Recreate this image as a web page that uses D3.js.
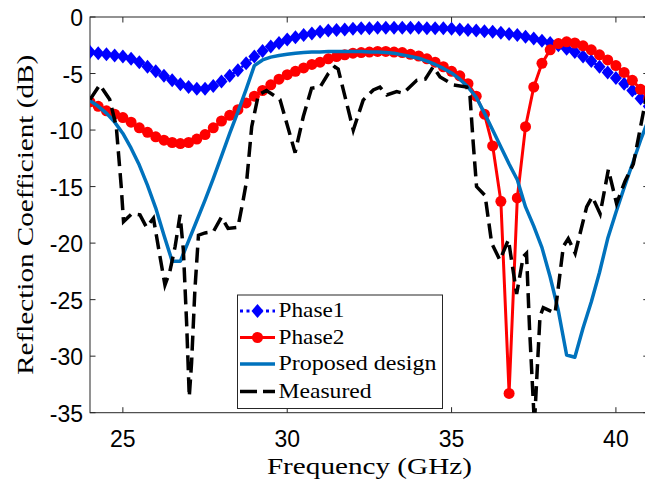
<!DOCTYPE html>
<html>
  <head>
    <meta charset="utf-8">
    <title>Reflection Coefficient</title>
    <script src="https://cdn.jsdelivr.net/npm/d3@7"></script>
    <style>
      body { margin: 0; background: #fff; }
      .tick-label { font-family: "Liberation Sans", Arial, sans-serif; font-size: 23px; fill: #000; }
      .axis-title, .legend-text { font-family: "Liberation Serif", "Times New Roman", serif; fill: #000; }
    </style>
  </head>
  <body>
    <svg id="chart"></svg>
    <script>
// frequency grid of the simulated curves (GHz)
var freq = [24, 24.25, 24.5, 24.75, 25, 25.25, 25.5, 25.75, 26, 26.25, 26.5, 26.75,
  27, 27.25, 27.5, 27.75, 28, 28.25, 28.5, 28.75, 29, 29.25, 29.5, 29.75,
  30, 30.25, 30.5, 30.75, 31, 31.25, 31.5, 31.75, 32, 32.25, 32.5, 32.75,
  33, 33.25, 33.5, 33.75, 34, 34.25, 34.5, 34.75, 35, 35.25, 35.5, 35.75,
  36, 36.25, 36.5, 36.75, 37, 37.25, 37.5, 37.75, 38, 38.25, 38.5, 38.75,
  39, 39.25, 39.5, 39.75, 40, 40.25, 40.5, 40.75, 41];

var phase1 = [-3.1, -3.2, -3.3, -3.4, -3.5, -3.7, -4.0, -4.4, -4.8, -5.2, -5.6, -5.95,
  -6.2, -6.35, -6.35, -6.1, -5.7, -5.2, -4.7, -4.1, -3.5, -3.0, -2.6, -2.3,
  -2.0, -1.8, -1.6, -1.45, -1.3, -1.2, -1.15, -1.1, -1.05, -1.0, -1.0, -0.95,
  -0.95, -0.95, -0.95, -0.95, -0.95, -1.0, -1.0, -1.0, -1.05, -1.1, -1.15, -1.2,
  -1.25, -1.3, -1.4, -1.5, -1.6, -1.75, -1.9, -2.1, -2.3, -2.5, -2.8, -3.1,
  -3.5, -3.9, -4.4, -4.9, -5.4, -5.9, -6.5, -7.2, -7.9];

var phase2 = [-7.5, -7.9, -8.3, -8.6, -8.9, -9.3, -9.8, -10.2, -10.6, -10.9, -11.1, -11.2,
  -11.1, -10.8, -10.4, -9.8, -9.2, -8.7, -8.2, -7.6, -7.0, -6.5, -6.0, -5.5,
  -5.1, -4.8, -4.5, -4.2, -4.0, -3.7, -3.5, -3.35, -3.2, -3.15, -3.1, -3.05,
  -3.05, -3.1, -3.15, -3.3, -3.45, -3.7, -4.0, -4.4, -4.8, -5.2, -5.9, -7.0,
  -8.6, -11.4, -16.3, -33.3, -16.0, -9.7, -6.2, -4.1, -2.9, -2.35, -2.2, -2.3,
  -2.55, -2.9, -3.35, -3.8, -4.3, -4.9, -5.6, -6.4, -7.2];

var proposed = [-7.4, -7.9, -8.5, -9.3, -10.3, -11.6, -13.1, -14.9, -16.9, -19.3, -21.6, -21.6,
  -19.8, -18.0, -16.2, -14.3, -12.3, -10.3, -8.4, -6.4, -4.3, -3.8, -3.55, -3.4,
  -3.3, -3.2, -3.15, -3.1, -3.1, -3.05, -3.05, -3.05, -3.05, -3.05, -3.1, -3.1,
  -3.15, -3.2, -3.35, -3.5, -3.65, -3.9, -4.2, -4.55, -4.95, -5.5, -6.2, -7.1,
  -8.5, -10.0, -11.5, -13.0, -14.4, -16.8, -18.5, -20.4, -23.0, -26.0, -29.9, -30.1,
  -27.5, -25.2, -22.6, -19.6, -17.3, -15.1, -13.0, -10.9, -9.0];

// measured curve, own frequency points
var measFreq = [24.0, 24.3, 24.6, 24.8, 24.95, 25.02, 25.27, 25.52, 25.72, 25.93, 26.13, 26.28,
  26.43, 26.59, 26.74, 26.84, 26.94, 27.02, 27.09, 27.19, 27.3, 27.5, 27.75, 28.0,
  28.2, 28.5, 28.66, 28.77, 28.92, 29.12, 29.37, 29.78, 30.24, 30.49, 30.74, 31.0,
  31.25, 31.45, 31.55, 32.01, 32.31, 32.62, 32.82, 33.03, 33.33, 33.53, 33.94, 34.2,
  34.44, 34.65, 35.05, 35.46, 35.56, 35.66, 35.76, 36.02, 36.22, 36.47, 36.73, 36.98,
  37.18, 37.28, 37.37, 37.52, 37.69, 37.79, 38.15, 38.4, 38.55, 38.76, 39.11, 39.28,
  39.52, 39.77, 40.02, 40.28, 40.53, 40.85, 41.0];
var measured = [-7.3, -6.0, -7.3, -9.7, -15.0, -18.1, -17.4, -17.5, -18.6, -17.8, -21.2, -23.7,
  -22.5, -20.3, -17.5, -20.6, -27.1, -33.6, -30.6, -24.2, -19.3, -19.1, -19.0, -17.7,
  -18.7, -18.6, -16.2, -14.4, -9.7, -6.9, -6.5, -7.3, -12.0, -8.8, -6.3, -6.2,
  -5.0, -4.4, -4.6, -10.0, -7.35, -6.45, -6.2, -6.9, -6.6, -6.75, -5.6, -5.5,
  -4.4, -5.3, -6.0, -6.2, -7.0, -11.2, -15.0, -15.8, -20.0, -21.5, -19.7, -24.5,
  -21.2, -20.9, -27.4, -36.0, -26.5, -25.7, -26.2, -20.3, -19.6, -20.9, -16.8, -15.9,
  -17.4, -13.5, -16.5, -14.5, -13.0, -8.2, -6.0];

var xTicks = [25, 30, 35, 40];
var yTicks = [0, -5, -10, -15, -20, -25, -30, -35];

var legendNames = ["Phase1", "Phase2", "Proposed design", "Measured"];
var legendWidths = [66, 66, 158, 93];

var W = 645, H = 483;
var plot = {left: 90, top: 17, bottom: 412.7};

var x = d3.scaleLinear().domain([24, 41]).range([plot.left, plot.left + 17 * 32.87]);
var y = d3.scaleLinear().domain([-35, 0]).range([plot.bottom, plot.top]);

var svg = d3.select("#chart").attr("width", W).attr("height", H);
svg.append("rect").attr("width", W).attr("height", H).attr("fill", "#fff");

svg.append("defs").append("clipPath").attr("id", "clip")
  .append("rect")
    .attr("x", x(24)).attr("y", y(0))
    .attr("width", x(41) - x(24)).attr("height", y(-35) - y(0));

var axisColor = "#262626";

// box and ticks
svg.append("rect")
    .attr("x", x(24)).attr("y", y(0))
    .attr("width", x(41) - x(24)).attr("height", y(-35) - y(0))
    .attr("fill", "none").attr("stroke", axisColor).attr("stroke-width", 1);

var tk = 5.5;
xTicks.forEach(function(t) {
  svg.append("line").attr("x1", x(t)).attr("x2", x(t))
    .attr("y1", y(-35)).attr("y2", y(-35) - tk).attr("stroke", axisColor);
  svg.append("line").attr("x1", x(t)).attr("x2", x(t))
    .attr("y1", y(0)).attr("y2", y(0) + tk).attr("stroke", axisColor);
  svg.append("text").attr("class", "tick-label")
    .attr("x", x(t)).attr("y", 446.5)
    .attr("text-anchor", "middle").text(t);
});
yTicks.forEach(function(t) {
  svg.append("line").attr("x1", x(24)).attr("x2", x(24) + tk)
    .attr("y1", y(t)).attr("y2", y(t)).attr("stroke", axisColor);
  svg.append("line").attr("x1", x(41)).attr("x2", x(41) - tk)
    .attr("y1", y(t)).attr("y2", y(t)).attr("stroke", axisColor);
  svg.append("text").attr("class", "tick-label")
    .attr("x", 83).attr("y", y(t) + 9)
    .attr("text-anchor", "end").text(t);
});

// axis titles
svg.append("text").attr("class", "axis-title")
  .attr("x", (x(24) + x(41)) / 2).attr("y", 473.5)
  .attr("text-anchor", "middle").style("font-size", "24px")
  .attr("textLength", 205).attr("lengthAdjust", "spacingAndGlyphs")
  .text("Frequency (GHz)");
svg.append("text").attr("class", "axis-title")
  .attr("transform", "translate(33," + ((y(0) + y(-35)) / 2) + ")rotate(-90)")
  .attr("text-anchor", "middle").style("font-size", "24px")
  .attr("textLength", 320).attr("lengthAdjust", "spacingAndGlyphs")
  .text("Reflection Coefficient (dB)");

var g = svg.append("g").attr("clip-path", "url(#clip)");

var line = d3.line().x(function(d) { return x(d[0]); }).y(function(d) { return y(d[1]); });
var diamond = function(cx, cy) {
  return "M" + cx + "," + (cy - 7) + "L" + (cx + 6) + "," + cy + "L" + cx + "," + (cy + 7) + "L" + (cx - 6) + "," + cy + "Z";
};

var p1 = freq.map(function(f, i) { return [f, phase1[i]]; });
var p2 = freq.map(function(f, i) { return [f, phase2[i]]; });
var pd = freq.map(function(f, i) { return [f, proposed[i]]; });
var ms = measFreq.map(function(f, i) { return [f, measured[i]]; });

// Phase1
g.append("path").attr("d", line(p1)).attr("fill", "none")
  .attr("stroke", "#0000ff").attr("stroke-width", 2.5).attr("stroke-dasharray", "2.5,3");
g.selectAll(".dia").data(p1).enter().append("path")
  .attr("d", function(d) { return diamond(x(d[0]), y(d[1])); })
  .attr("fill", "#0000ff");

// Phase2
g.append("path").attr("d", line(p2)).attr("fill", "none")
  .attr("stroke", "#ff0000").attr("stroke-width", 3);
g.selectAll(".dot").data(p2).enter().append("circle")
  .attr("cx", function(d) { return x(d[0]); })
  .attr("cy", function(d) { return y(d[1]); })
  .attr("r", 5.5).attr("fill", "#ff0000");

// Proposed design
g.append("path").attr("d", line(pd)).attr("fill", "none")
  .attr("stroke", "#0072bd").attr("stroke-width", 3.5).attr("stroke-linejoin", "round");

// Measured
g.append("path").attr("d", line(ms)).attr("fill", "none")
  .attr("stroke", "#000").attr("stroke-width", 3.5).attr("stroke-dasharray", "15,7");

// legend
var lg = svg.append("g");
lg.append("rect").attr("x", 237.5).attr("y", 295).attr("width", 205).attr("height", 113.5)
  .attr("fill", "#fff").attr("stroke", axisColor).attr("stroke-width", 1);
var rowY = [311, 337.5, 364, 391.5];
legendNames.forEach(function(name, i) {
  var ry = rowY[i];
  var seg = lg.append("line").attr("x1", 240).attr("x2", 275).attr("y1", ry).attr("y2", ry);
  if (i === 0) {
    seg.attr("stroke", "#0000ff").attr("stroke-width", 3).attr("stroke-dasharray", "3,3.5");
    lg.append("path").attr("d", diamond(257.5, ry)).attr("fill", "#0000ff");
  } else if (i === 1) {
    seg.attr("stroke", "#ff0000").attr("stroke-width", 3);
    lg.append("circle").attr("cx", 257.5).attr("cy", ry).attr("r", 5.5).attr("fill", "#ff0000");
  } else if (i === 2) {
    seg.attr("stroke", "#0072bd").attr("stroke-width", 3.5);
  } else {
    seg.attr("stroke", "#000").attr("stroke-width", 3.5).attr("stroke-dasharray", "17,6");
  }
  lg.append("text").attr("class", "legend-text")
    .attr("x", 278.5).attr("y", ry + 6)
    .style("font-size", "22px")
    .attr("textLength", legendWidths[i]).attr("lengthAdjust", "spacingAndGlyphs")
    .text(name);
});
    </script>
  </body>
</html>
